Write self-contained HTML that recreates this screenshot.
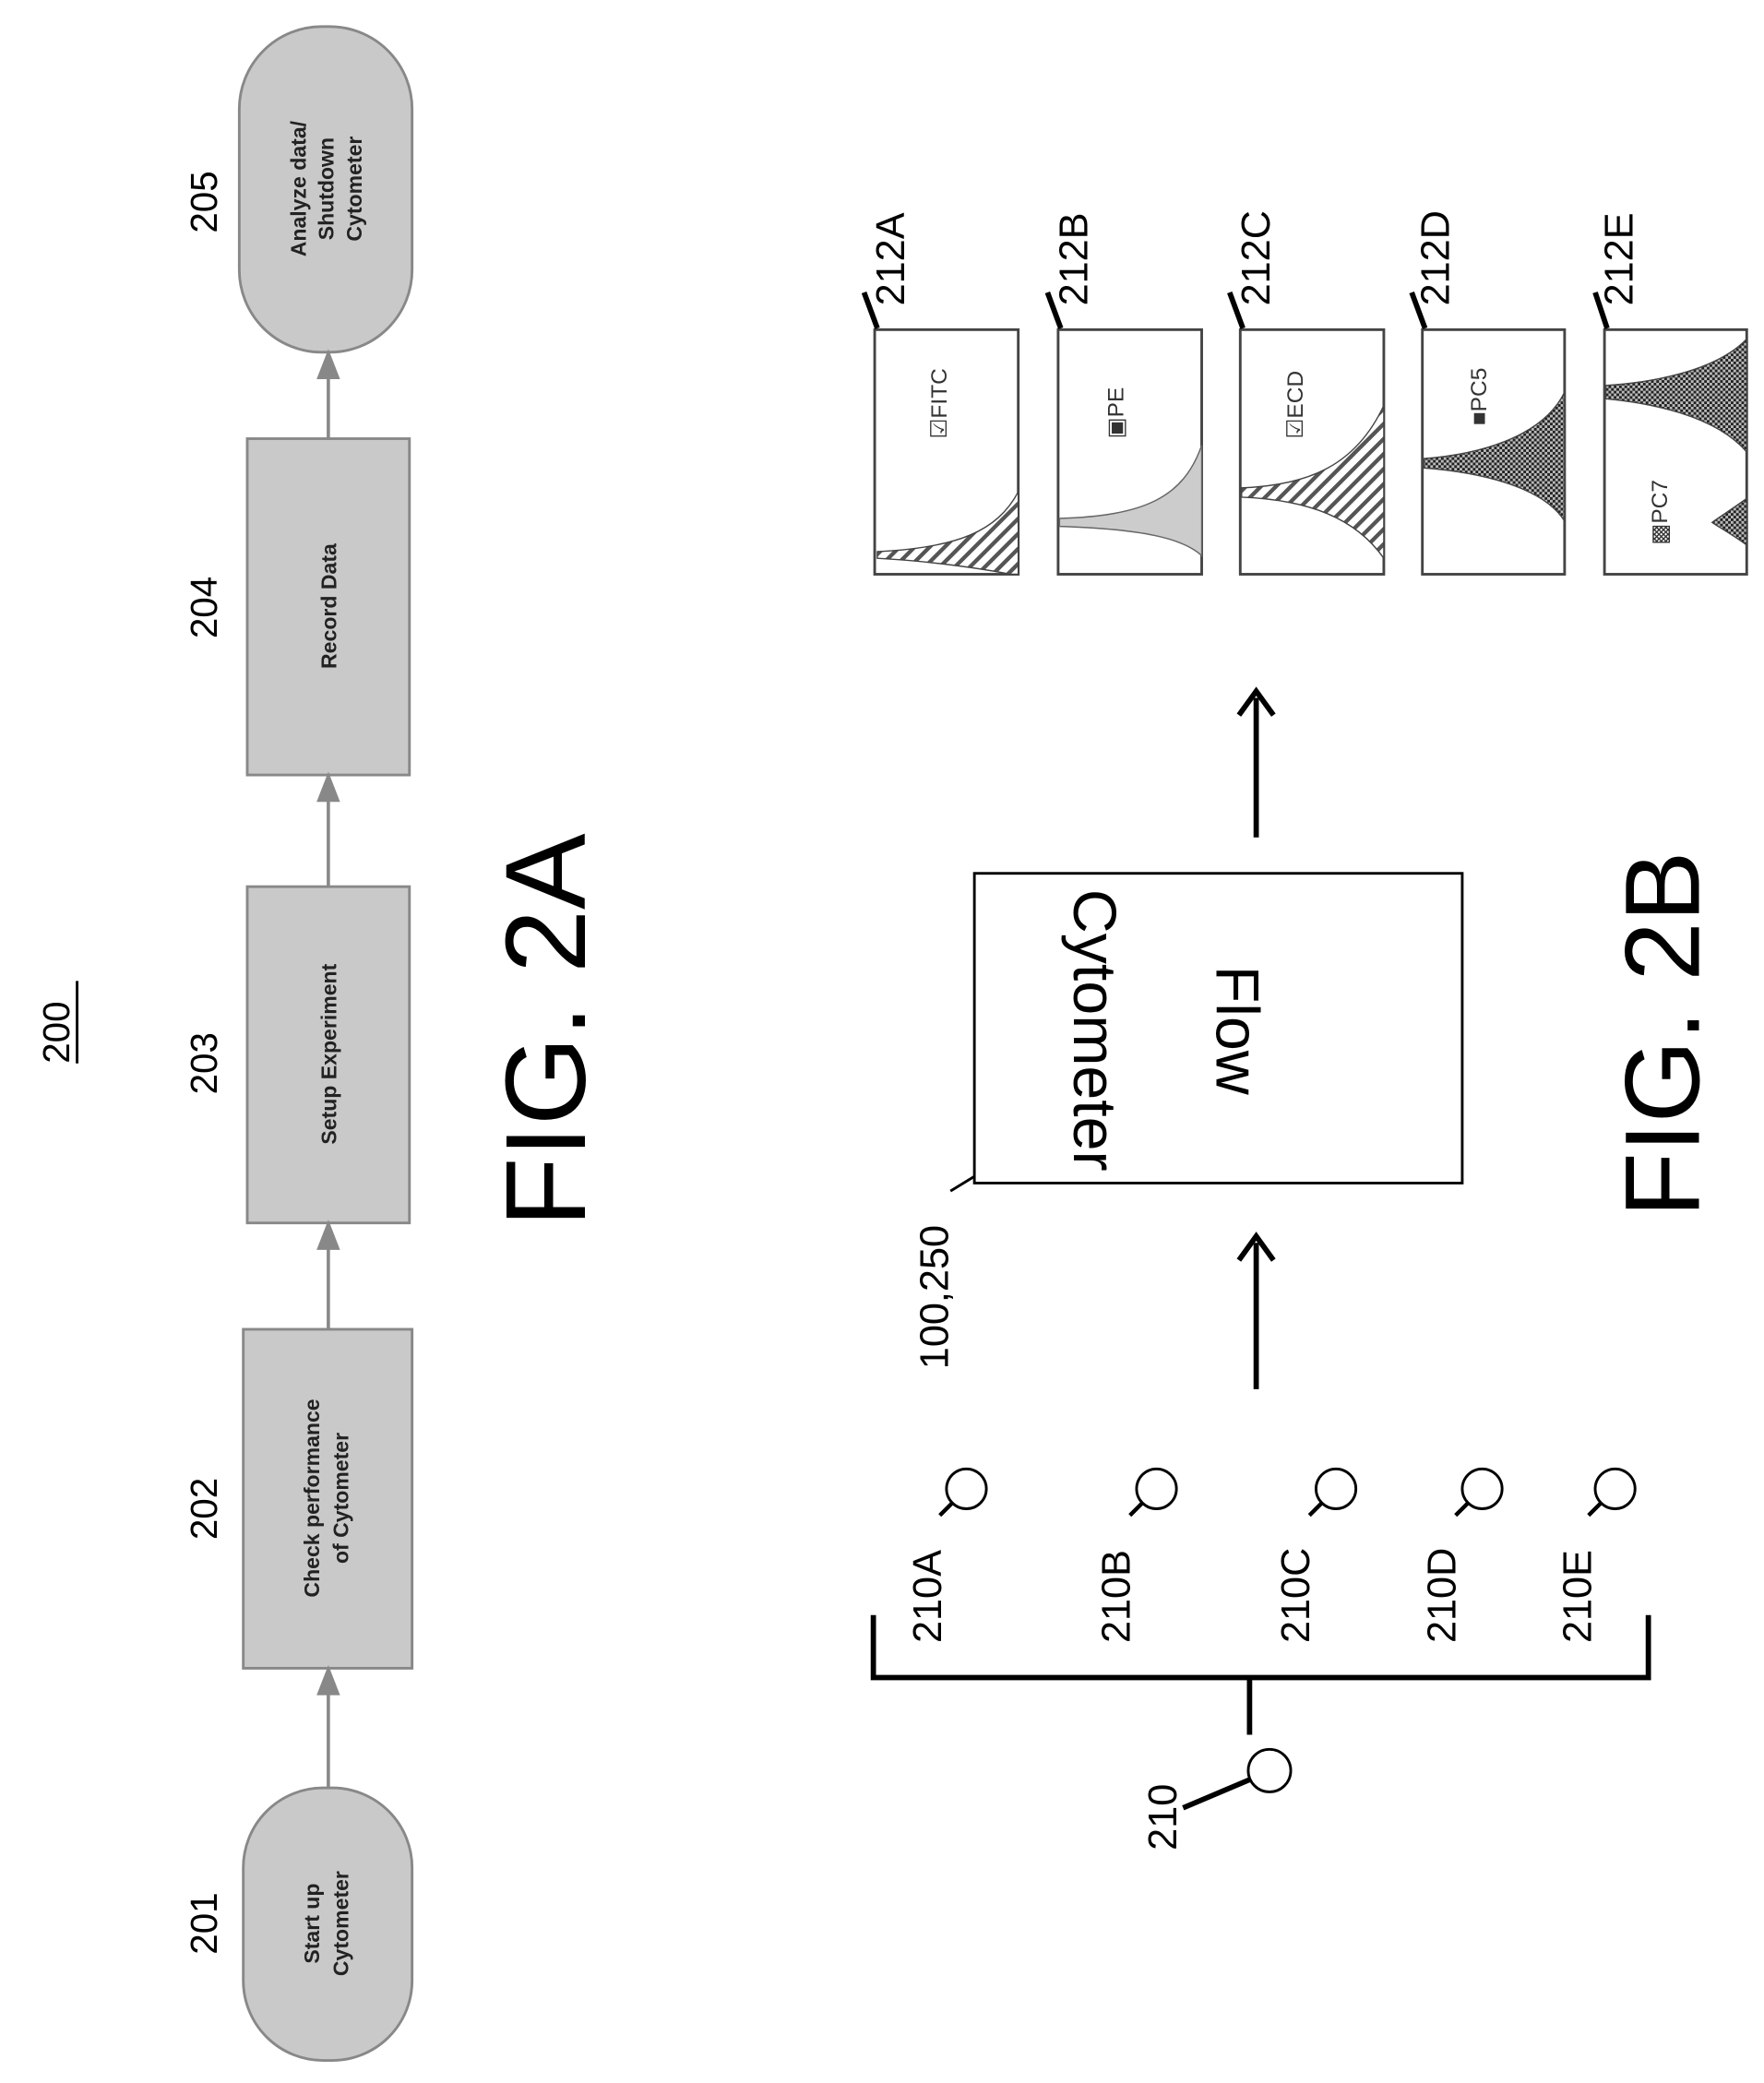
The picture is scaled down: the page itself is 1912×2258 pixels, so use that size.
<!DOCTYPE html>
<html><head><meta charset="utf-8"><style>
html,body{margin:0;padding:0;background:#fff;}
svg{display:block;}
text{font-family:"Liberation Sans",sans-serif;}
</style></head><body>
<svg width="1912" height="2258" viewBox="0 0 1327 1567" preserveAspectRatio="none" xmlns="http://www.w3.org/2000/svg">
<defs>
<pattern id="hatch" width="8" height="8" patternUnits="userSpaceOnUse" patternTransform="rotate(45)">
<rect width="8" height="8" fill="#fff"/><rect width="3" height="8" fill="#555"/></pattern>
<pattern id="chk" width="4" height="4" patternUnits="userSpaceOnUse">
<rect width="4" height="4" fill="#bbb"/><rect width="2" height="2" fill="#222"/><rect x="2" y="2" width="2" height="2" fill="#222"/></pattern>
</defs>
<rect width="1327" height="1567" fill="#fff"/>

<text transform="translate(52,800) rotate(-90)" font-size="28">200</text>
<line x1="58" y1="738" x2="58" y2="800" stroke="#000" stroke-width="2"/>

<g fill="#c9c9c9" stroke="#888" stroke-width="2">
<rect x="183" y="1345" width="127" height="205" rx="60"/>
<rect x="183" y="1000" width="127" height="255"/>
<rect x="186" y="667" width="122" height="253"/>
<rect x="186" y="330" width="122" height="253"/>
<rect x="180" y="20" width="130" height="245" rx="62"/>
</g>
<g stroke="#888" stroke-width="2.5" fill="#888">
<line x1="247" y1="1345" x2="247" y2="1270"/><polygon points="247,1256 240,1274 254,1274"/>
<line x1="247" y1="1000" x2="247" y2="935"/><polygon points="247,921 240,939 254,939"/>
<line x1="247" y1="667" x2="247" y2="598"/><polygon points="247,584 240,602 254,602"/>
<line x1="247" y1="330" x2="247" y2="280"/><polygon points="247,266 240,284 254,284"/>
</g>
<g font-size="16" font-weight="bold" fill="#222" text-anchor="middle">
<text transform="translate(240,1447) rotate(-90)">Start up</text>
<text transform="translate(262,1447) rotate(-90)">Cytometer</text>
<text transform="translate(240,1127) rotate(-90)">Check performance</text>
<text transform="translate(262,1127) rotate(-90)">of Cytometer</text>
<text transform="translate(253,793) rotate(-90)">Setup Experiment</text>
<text transform="translate(253,456) rotate(-90)">Record Data</text>
<text transform="translate(230,142) rotate(-90)">Analyze data/</text>
<text transform="translate(251,142) rotate(-90)">Shutdown</text>
<text transform="translate(272,142) rotate(-90)">Cytometer</text>
</g>
<g font-size="28" text-anchor="middle">
<text transform="translate(163,1447) rotate(-90)">201</text>
<text transform="translate(163,1135) rotate(-90)">202</text>
<text transform="translate(163,800) rotate(-90)">203</text>
<text transform="translate(163,457) rotate(-90)">204</text>
<text transform="translate(163,152) rotate(-90)">205</text>
</g>
<text transform="translate(440,775) rotate(-90)" font-size="86" text-anchor="middle">FIG. 2A</text>

<text transform="translate(1278,778) rotate(-90)" font-size="80" text-anchor="middle">FIG. 2B</text>
<rect x="733" y="657" width="367" height="233" fill="#fff" stroke="#000" stroke-width="2"/>
<g font-size="46" text-anchor="middle">
<text transform="translate(915,775) rotate(90)">Flow</text>
<text transform="translate(808,775) rotate(90)">Cytometer</text>
</g>
<text transform="translate(713,1030) rotate(-90)" font-size="30">100,250</text>
<line x1="715" y1="896" x2="733" y2="885" stroke="#000" stroke-width="2"/>
<g stroke="#000" stroke-width="4" fill="none">
<line x1="945" y1="1045" x2="945" y2="935"/><polyline points="932,948 945,930 958,948"/>
<line x1="945" y1="630" x2="945" y2="525"/><polyline points="932,538 945,520 958,538"/>
</g>

<g fill="#fff" stroke="#444" stroke-width="2">
<rect x="658" y="248" width="108" height="184"/>
<rect x="796" y="248" width="108" height="184"/>
<rect x="933" y="248" width="108" height="184"/>
<rect x="1070" y="248" width="107" height="184"/>
<rect x="1207" y="248" width="107" height="184"/>
</g>
<path d="M766,370 C750,400 720,412 660,415 L660,420 C700,422 740,428 760,432 L766,432 Z" fill="url(#hatch)" stroke="#444"/>
<path d="M904,335 C890,375 860,388 797,390 L797,396 C860,398 890,405 904,418 Z" fill="#ccc" stroke="#666"/>
<path d="M1041,305 C1020,350 985,365 934,367 L934,374 C985,376 1020,390 1041,420 Z" fill="url(#hatch)" stroke="#444"/>
<path d="M1177,295 C1160,330 1110,342 1071,345 L1071,352 C1110,355 1160,365 1177,392 Z" fill="url(#chk)" stroke="#444"/>
<path d="M1314,255 C1290,280 1240,288 1208,290 L1208,300 C1240,303 1290,312 1314,340 Z" fill="url(#chk)" stroke="#444"/>
<path d="M1314,375 C1300,385 1292,390 1288,393 C1292,396 1300,400 1314,410 Z" fill="url(#chk)" stroke="#444"/>
<g font-size="17" fill="#333">
<text transform="translate(712,330) rotate(-90)">☑FITC</text>
<text transform="translate(845,330) rotate(-90)">▣PE</text>
<text transform="translate(980,330) rotate(-90)">☑ECD</text>
<text transform="translate(1118,320) rotate(-90)">■PC5</text>
<text transform="translate(1254,410) rotate(-90)">▩PC7</text>
</g>
<g font-size="30">
<text transform="translate(680,230) rotate(-90)">212A</text>
<text transform="translate(818,230) rotate(-90)">212B</text>
<text transform="translate(955,230) rotate(-90)">212C</text>
<text transform="translate(1090,230) rotate(-90)">212D</text>
<text transform="translate(1228,230) rotate(-90)">212E</text>
</g>
<g stroke="#000" stroke-width="4">
<line x1="650" y1="220" x2="660" y2="247"/>
<line x1="788" y1="220" x2="798" y2="247"/>
<line x1="925" y1="220" x2="935" y2="247"/>
<line x1="1062" y1="220" x2="1072" y2="247"/>
<line x1="1200" y1="220" x2="1209" y2="247"/>
</g>

<g stroke="#000" stroke-width="4" fill="none">
<polyline points="657,1215 657,1262 1240,1262 1240,1215"/>
<line x1="940" y1="1262" x2="940" y2="1305"/>
<line x1="890" y1="1360" x2="942" y2="1338"/>
</g>
<g fill="#fff" stroke="#000" stroke-width="2">
<circle cx="955" cy="1332" r="16"/>
<circle cx="727" cy="1120" r="15"/>
<circle cx="870" cy="1120" r="15"/>
<circle cx="1005" cy="1120" r="15"/>
<circle cx="1115" cy="1120" r="15"/>
<circle cx="1215" cy="1120" r="15"/>
</g>
<g stroke="#000" stroke-width="3">
<line x1="707" y1="1140" x2="717" y2="1130"/>
<line x1="850" y1="1140" x2="860" y2="1130"/>
<line x1="985" y1="1140" x2="995" y2="1130"/>
<line x1="1095" y1="1140" x2="1105" y2="1130"/>
<line x1="1195" y1="1140" x2="1205" y2="1130"/>
</g>
<g font-size="30">
<text transform="translate(885,1392) rotate(-90)">210</text>
<text transform="translate(708,1236) rotate(-90)">210A</text>
<text transform="translate(850,1236) rotate(-90)">210B</text>
<text transform="translate(985,1236) rotate(-90)">210C</text>
<text transform="translate(1095,1236) rotate(-90)">210D</text>
<text transform="translate(1197,1236) rotate(-90)">210E</text>
</g>
</svg>
</body></html>
